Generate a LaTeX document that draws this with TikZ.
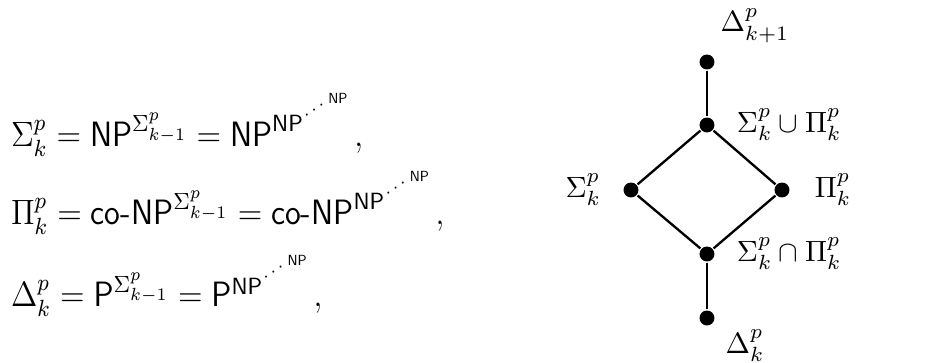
\documentclass[tikz,border=0pt]{standalone}
\usepackage{amsmath}
\usetikzlibrary{positioning}

% dots and top NP of the exponent tower
\newcommand{\towerdot}[1]{\raisebox{#1}{\makebox[0pt]{$\scriptscriptstyle\cdot$}}}
\newcommand{\npdots}{\kern1.5pt\towerdot{4.3pt}\kern2.7pt\towerdot{6.0pt}\kern2.7pt\towerdot{7.7pt}\kern2.6pt\raisebox{9.8pt}{\tiny\sffamily NP}}

\begin{document}
\begin{tikzpicture}[x=0.341pt, y=0.341pt, thick,
                    dot node/.style={circle,fill,inner sep=0pt,minimum size=5.1pt},
                    eq node/.style={anchor=base west,inner sep=0pt,font=\large,xscale=0.915,transform shape}]

  \useasboundingbox (0,0) rectangle (939,363);

  \node[eq node] (sig) at (10,216) {$\Sigma_k^p = \mathsf{NP}^{\Sigma_{k-1}^p} = \mathsf{NP}^{\mathsf{NP}\npdots}\,,$};
  \node[eq node] (pi) at (10,138) {$\Pi_k^p = \textsf{co-NP}^{\Sigma_{k-1}^p} = \textsf{co-NP}^{\mathsf{NP}\npdots}\,,$};
  \node[eq node] (del) at (10,56) {$\Delta_k^p = \mathsf{P}^{\Sigma_{k-1}^p} = \mathsf{P}^{\mathsf{NP}\npdots}\,,$};

  \node[dot node] (1) at (707,301) {};
  \node[dot node] (2) at (707,238) {};
  \node[dot node] (3) at (631,173) {};
  \node[dot node] (4) at (782,173) {};
  \node[dot node] (5) at (707,109) {};
  \node[dot node] (6) at (707,45) {};

  \node (t1) at (755,337) {$\Delta_{k+1}^p$};
  \node (t2) [right=3.5pt of 2] {$\Sigma_k^p \cup \Pi_k^p$};
  \node (t3) [left=3.5pt of 3] {$\Sigma_k^p$};
  \node (t4) [right=4.5pt of 4] {$\Pi_k^p$};
  \node (t5) [right=3.5pt of 5] {$\Sigma_k^p \cap \Pi_k^p$};
  \node (t6) at (745,17) {$\Delta_k^p$};

\path
    (1) edge (2)
    (2) edge (3)
    (2) edge (4)
    (3) edge (5)
    (4) edge (5)
    (5) edge (6);

\end{tikzpicture}
\end{document}
